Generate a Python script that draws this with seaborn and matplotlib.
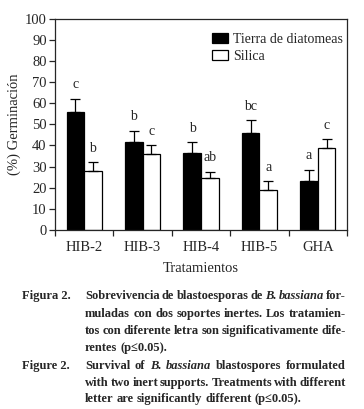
import numpy as np
import pandas as pd
import matplotlib
matplotlib.use("Agg")
import matplotlib.pyplot as plt
import seaborn as sns

treatments = ["HIB-2", "HIB-3", "HIB-4", "HIB-5", "GHA"]
supports = ["Tierra de diatomeas", "Silica"]
tierra = [56, 41.5, 36.5, 46, 23]
tierra_err = [6, 5.5, 5, 6, 5.5]
silica = [28, 36, 24.5, 19, 39]
silica_err = [4, 4, 3, 4, 4]
letters_tierra = ["c", "b", "b", "bc", "a"]
letters_silica = ["b", "c", "ab", "a", "c"]

caption_es = [
    [("Sobrevivencia de blastoesporas de ", "normal"), ("B. bassiana", "italic"), (" for-", "normal")],
    [("muladas con dos soportes inertes.  Los tratamien-", "normal")],
    [("tos con diferente letra son significativamente dife-", "normal")],
    [("rentes (p\u22640.05).", "normal")],
]
caption_en = [
    [("Survival of ", "normal"), ("B. bassiana", "italic"), (" blastospores formulated", "normal")],
    [("with two inert supports. Treatments with different", "normal")],
    [("letter are significantly different (p\u22640.05).", "normal")],
]

sns.set_style("ticks")
plt.rcParams['font.family'] = ['Liberation Serif', 'DejaVu Serif']
plt.rcParams['axes.linewidth'] = 0.9

df = pd.DataFrame({
    "trat": treatments * 2,
    "soporte": [supports[0]] * 5 + [supports[1]] * 5,
    "germ": tierra + silica,
})

W, H = 364, 409
fig = plt.figure(figsize=(W / 100, H / 100), dpi=100)
ax = fig.add_axes([55 / W, 1 - 230 / H, 292 / W, 211.5 / H])

sns.barplot(data=df, x="trat", y="germ", hue="soporte", order=treatments,
            hue_order=supports, palette=["black", "white"], errorbar=None,
            width=0.6, edgecolor="black", linewidth=0.9, saturation=1, ax=ax)

# one-sided error bars + significance letters
groups = [(tierra, tierra_err, letters_tierra), (silica, silica_err, letters_silica)]
for cont, (vals, errs, lets) in zip(ax.containers, groups):
    xs = [p.get_x() + p.get_width() / 2 for p in cont.patches]
    ax.errorbar(xs, vals, yerr=[np.zeros(len(vals)), errs], fmt="none",
                ecolor="black", elinewidth=0.9, capsize=3.5, capthick=0.9)
    for x, v, e, l in zip(xs, vals, errs, lets):
        ax.text(x, v + e + 3.5, l, ha="center", va="bottom", fontsize=10)

ax.set_ylim(0, 100)
ax.set_xlim(-0.5, 4.5)
ax.set_yticks(np.arange(0, 101, 10))
ax.set_xticks(np.arange(-0.5, 5, 1), minor=True)
ax.tick_params(axis="x", which="major", length=0, labelsize=10.5, pad=8)
ax.tick_params(axis="x", which="minor", length=4, width=0.9, direction="out")
ax.tick_params(axis="y", length=4, width=0.9, direction="out", labelsize=10.5, pad=2)
for s in ax.spines.values():
    s.set_visible(True)
ax.set_xlabel("Tratamientos", fontsize=10.5, labelpad=6)
ax.set_ylabel("(%) Germinaci\u00f3n", fontsize=10.5, labelpad=3)

handles, labels = ax.get_legend_handles_labels()
ax.legend(handles, labels, loc="upper left", bbox_to_anchor=(0.52, 0.96),
          frameon=False, fontsize=10, handlelength=1.1, handleheight=0.8,
          handletextpad=0.4, labelspacing=0.3, borderaxespad=0)

# caption, justified line by line
renderer = fig.canvas.get_renderer()


def words_of(segs):
    out = []
    for txt, st in segs:
        for w in txt.split():
            out.append((w, st))
    return out


def measure(word, st, size):
    t = fig.text(0, 0, word, fontsize=size, fontweight="bold", style=st)
    w = t.get_window_extent(renderer).width
    t.remove()
    return w


def draw_line(segs, x0, x1, y, size, justify):
    ws = words_of(segs)
    widths = [measure(w, st, size) for w, st in ws]
    space = measure("a b", "normal", size) - measure("ab", "normal", size)
    if justify and len(ws) > 1:
        gap = (x1 - x0 - sum(widths)) / (len(ws) - 1)
    else:
        gap = space
    x = x0
    for (w, st), wd in zip(ws, widths):
        fig.text(x / W, 1 - y / H, w, fontsize=size, fontweight="bold",
                 style=st, ha="left", va="baseline")
        x += wd + gap


size = 9.0
x0, x1 = 85, 346
for _ in range(5):
    worst = 0
    for segs in caption_es[:3] + caption_en[:2]:
        ws = words_of(segs)
        nat = sum(measure(w, st, size) for w, st in ws) + (len(ws) - 1) * 1.8
        worst = max(worst, nat / (x1 - x0))
    if worst > 1:
        size = size / worst
    else:
        break

ys_es = [299, 317, 334, 351]
ys_en = [369, 386, 402]
fig.text(22 / W, 1 - ys_es[0] / H, "Figura 2.", fontsize=size, fontweight="bold",
         ha="left", va="baseline")
fig.text(22 / W, 1 - ys_en[0] / H, "Figure 2.", fontsize=size, fontweight="bold",
         ha="left", va="baseline")
for i, (segs, y) in enumerate(zip(caption_es, ys_es)):
    draw_line(segs, x0, x1, y, size, i < 3)
for i, (segs, y) in enumerate(zip(caption_en, ys_en)):
    draw_line(segs, x0, x1, y, size, i < 2)

fig.savefig("out.png", dpi=100)
